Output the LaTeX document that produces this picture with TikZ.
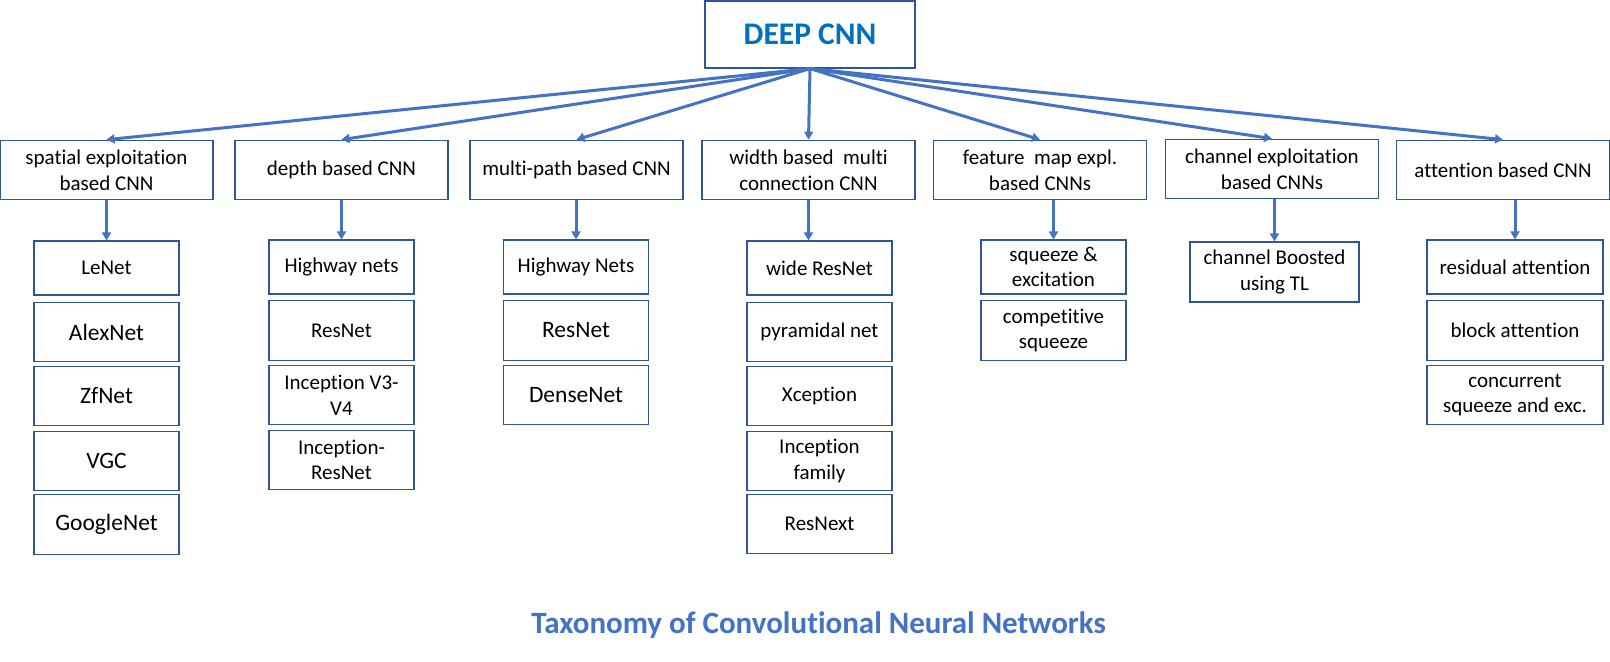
\documentclass[tikz,border=0pt]{standalone}
\usepackage{fontspec}
\setmainfont{Carlito}[Ligatures={NoCommon}]
\usetikzlibrary{arrows.meta}
\definecolor{boxblue}{HTML}{2F5597}
\definecolor{arrowblue}{HTML}{4472C4}
\definecolor{rootblue}{HTML}{0070C0}
\tikzset{
  catbox/.style={draw=boxblue, line width=0.6pt, minimum width=106.5pt,
    minimum height=29.75pt, inner sep=1pt, align=center,
    font=\fontsize{10.5}{12.8}\selectfont},
  netbox/.style={catbox, minimum width=72.5pt},
  bignet/.style={font=\fontsize{11.75}{14}\selectfont},
  arr/.style={arrowblue, line width=1.5pt, -{Triangle[length=4pt,width=4.5pt]}}
}
\begin{document}
\begin{tikzpicture}[x=0.5pt,y=-0.5pt]
  \useasboundingbox (0,0) rectangle (1610,661);
  % root
  \node[catbox, minimum width=105pt, minimum height=33.5pt, text=rootblue,
    font=\bfseries\fontsize{15.75}{18}\selectfont] (deep) at (810,34.5) {DEEP CNN};
  % categories
  \node[catbox] (spatial) at (106.5,170) {spatial exploitation\\based CNN};
  \node[catbox] (depth) at (341.5,170) {depth based CNN};
  \node[catbox] (multipath) at (576.5,170) {multi-path based CNN};
  \node[catbox] (widthc) at (808.5,170) {width based\ \ multi\\connection CNN};
  \node[catbox] (fmap) at (1040,170) {feature\ \ map expl.\\based CNNs};
  \node[catbox] (chanexp) at (1272,169) {channel exploitation\\based CNNs};
  \node[catbox] (attn) at (1503,170) {attention based CNN};
  \foreach \c in {spatial,depth,multipath,widthc,fmap,chanexp,attn}
    \draw[arr] (deep.south) -- (\c.north);
  % spatial exploitation
  \node[netbox, minimum height=27pt] (lenet) at (106.5,268) {LeNet};
  \node[netbox, bignet] (alexnet) at (106.5,332) {AlexNet};
  \node[netbox, bignet] (zfnet) at (106.5,396) {ZfNet};
  \node[netbox, bignet] (vgc) at (106.5,461) {VGC};
  \node[netbox, bignet] (googlenet) at (106.5,524.5) {GoogleNet};
  \draw[arr] (spatial.south) -- (lenet.north);
  % depth
  \node[netbox, minimum height=27pt] (highway) at (341.5,267) {Highway nets};
  \node[netbox] (resnetd) at (341.5,330.5) {ResNet};
  \node[netbox] (incv) at (341.5,395) {Inception V3-\\V4};
  \node[netbox] (incres) at (341.5,460) {Inception-\\ResNet};
  \draw[arr] (depth.south) -- (highway.north);
  % multi-path
  \node[netbox, minimum height=27pt] (highwaym) at (576,267) {Highway Nets};
  \node[netbox, bignet] (resnetm) at (576,330.5) {ResNet};
  \node[netbox, bignet] (densenet) at (576,395) {DenseNet};
  \draw[arr] (multipath.south -| highwaym.north) -- (highwaym.north);
  % width
  \node[netbox, minimum height=27pt] (wideres) at (819.5,268) {wide ResNet};
  \node[netbox] (pyramid) at (819.5,332) {pyramidal net};
  \node[netbox] (xception) at (819.5,396) {Xception};
  \node[netbox] (incfam) at (819.5,461) {Inception\\family};
  \node[netbox] (resnext) at (819.5,524) {ResNext};
  \draw[arr] (widthc.south) -- (widthc.south |- wideres.north);
  % feature map
  \node[netbox, minimum height=27pt] (squeeze) at (1053.5,267) {squeeze \&\\excitation};
  \node[netbox] (compsq) at (1053.5,330.5) {competitive\\squeeze};
  \draw[arr] (fmap.south -| squeeze.north) -- (squeeze.north);
  % channel
  \node[netbox, minimum width=84.5pt, minimum height=30pt] (boosted) at (1274.5,272) {channel Boosted\\using TL};
  \draw[arr] (chanexp.south -| boosted.north) -- (boosted.north);
  % attention
  \node[netbox, minimum width=88pt, minimum height=27pt] (resatt) at (1515,267) {residual attention};
  \node[netbox, minimum width=88pt] (blockatt) at (1515,330.5) {block attention};
  \node[netbox, minimum width=88pt] (concsq) at (1515,395) {concurrent\\squeeze and exc.};
  \draw[arr] (attn.south -| resatt.north) -- (resatt.north);
  % title
  \node[anchor=base, text=arrowblue, font=\bfseries\fontsize{15.5}{18}\selectfont]
    (taxtitle) at (818.5,633) {Taxonomy of Convolutional Neural Networks};
\end{tikzpicture}
\end{document}
